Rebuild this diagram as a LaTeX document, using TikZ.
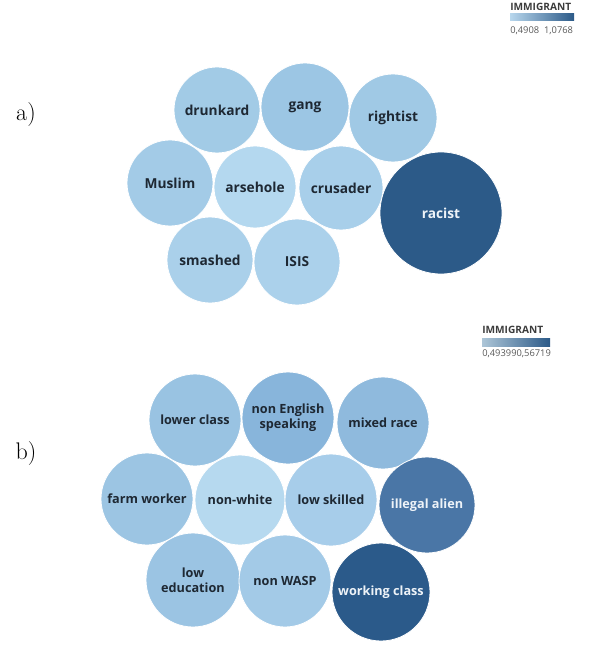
\documentclass[tikz,border=0pt]{standalone}
\usepackage{fontspec}
\newfontfamily\bubfont{Open Sans}
\definecolor{inkdark}{HTML}{1E2833}
\definecolor{inklight}{HTML}{EEF3F8}
\definecolor{legink}{HTML}{3C3C3C}
\definecolor{barlo}{HTML}{B8D7ED}
\definecolor{barhi}{HTML}{2C5A88}

\tikzset{
  bub/.style={circle, draw=white, line width=0.6pt, minimum size=#1*1.5pt, inner sep=0pt,
    align=center, font=\bubfont\bfseries\fontsize{9.5}{11.5}\selectfont},
  bigtext/.style={font=\bubfont\bfseries\fontsize{10.3}{12}\selectfont},
  panel/.style={font=\fontsize{18}{21}\selectfont},
  legtitle/.style={anchor=north west, inner sep=0pt, text=legink, font=\bubfont\bfseries\fontsize{7.6}{9}\selectfont},
  legval/.style={anchor=north west, inner sep=0pt, text=legink!85, font=\bubfont\fontsize{7}{8}\selectfont},
}

\begin{document}
\begin{tikzpicture}[x=0.75pt, y=-0.75pt]
  \useasboundingbox (0,0) rectangle (592,645);

  % a) words close to "immigrant"
  \node[panel] (la) at (26,115) {a)};
  \foreach \n/\x/\y/\r/\c/\t/\s in {
      drunkard/217/110/43/A2CBE6/inkdark/drunkard,
      gang/305/107/44/9CC6E4/inkdark/gang,
      rightist/393/118/44/A0C9E5/inkdark/rightist,
      muslim/170/183/43/A3CBE7/inkdark/Muslim,
      arsehole/255/187/41/B4D8EF/inkdark/arsehole,
      crusader/341/188/42/A8CFEA/inkdark/crusader,
      racist/441/213/61/2C5A88/inklight/racist,
      smashed/210/260/43/AAD0EA/inkdark/smashed,
      isis/297/262/43/ABD1EB/inkdark/ISIS} {
    \definecolor{bubfill}{HTML}{\c}
    \node[bub=\r, bigtext, fill=bubfill, text=\t] (\n) at (\x,\y) {\s};
  }
  \node[legtitle] (ta) at (510,3) {IMMIGRANT};
  \shade[left color=barlo, right color=barhi] (510,14) rectangle (574,21);
  \node[legval] (va) at (510,26) {0,4908\ \ 1,0768};

  % b) words close to "immigrant"
  \node[panel] (lb) at (26,454) {b)};
  \foreach \n/\x/\y/\r/\c/\t/\s in {
      lowerclass/195/420/46/99C3E2/inkdark/{lower class},
      nonenglish/288/418/46/88B5DB/inkdark/{non English\\speaking},
      mixedrace/383/423/46/8FBADD/inkdark/{mixed race},
      farmworker/147/499/46/9CC5E3/inkdark/{farm worker},
      nonwhite/240/500/45/B6D9EF/inkdark/non-white,
      lowskilled/331/500/46/A7CDEA/inkdark/{low skilled},
      illegalalien/427/505/48/4A76A6/inklight/{illegal alien},
      loweducation/193/580/47/9BC4E3/inkdark/{low\\education},
      nonwasp/285/581/46/A3CAE7/inkdark/{non WASP},
      workingclass/381/592/49/2B5A8A/inklight/{working class}} {
    \definecolor{bubfill}{HTML}{\c}
    \node[bub=\r, fill=bubfill, text=\t] (\n) at (\x,\y) {\s};
  }
  \node[legtitle] (tb) at (482,326) {IMMIGRANT};
  \shade[left color=barlo!80!gray, right color=barhi] (482,338) rectangle (550,346);
  \node[legval] (vb) at (482,349) {0,493990,56719};
\end{tikzpicture}
\end{document}
